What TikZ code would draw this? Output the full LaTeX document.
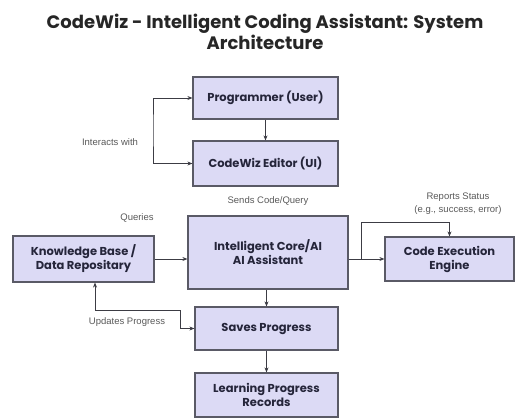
\documentclass[tikz,border=0pt]{standalone}
\usepackage{fontspec}
\setmainfont{Poppins}
\newfontfamily\labelfont{Liberation Sans}
\usepackage{xcolor}
\usepackage{tikz}
\usetikzlibrary{arrows.meta}

\definecolor{boxfill}{HTML}{DCDAF5}
\definecolor{boxline}{HTML}{5A5A66}
\definecolor{boxtext}{HTML}{25253A}
\definecolor{linkgray}{HTML}{3C3C44}

\tikzset{
  archbox/.style={draw=boxline, line width=1.2pt, fill=boxfill, text=boxtext,
    font=\fontsize{11.5}{14}\selectfont\bfseries, align=center,
    inner sep=0pt, minimum width=#1},
  archbox/.default=145pt,
  link/.style={draw=linkgray, line width=0.9pt, -{Stealth[length=5pt,width=4pt]}},
  linkboth/.style={link, {Stealth[length=5pt,width=4pt]}-{Stealth[length=5pt,width=4pt]}},
  tag/.style={text=black!65, font=\labelfont\fontsize{9.5}{13}\selectfont, align=center}
}

\begin{document}
\begin{tikzpicture}[x=1pt, y=-1pt]
    \useasboundingbox (0,0) rectangle (515,418);

    \node (title) at (265,32) [align=center, font=\fontsize{18}{21}\selectfont\bfseries, text=black!85]
      {CodeWiz - Intelligent Coding Assistant: System\\Architecture};

    % boxes
    \node (prog) at (265.5,98) [archbox, minimum height=42pt] {Programmer (User)};
    \node (editor) at (265.5,163.5) [archbox, minimum height=45pt] {CodeWiz Editor (UI)};
    \node (core) at (268,252.5) [archbox=160pt, minimum height=73pt] {Intelligent Core/AI\\AI Assistant};
    \node (kb) at (83.5,259) [archbox=141pt, minimum height=46pt] {Knowledge Base /\\Data Repositary};
    \node (exec) at (449.5,259) [archbox=129pt, minimum height=44pt] {Code Execution\\Engine};
    \node (saves) at (266.5,328.5) [archbox=143pt, minimum height=43pt] {Saves Progress};
    \node (records) at (266.5,395) [archbox=143pt, minimum height=44pt] {Learning Progress\\Records};

    % helper points
    \coordinate (iw) at (153,130);
    \coordinate (rs) at (361,222);
    \coordinate (up1) at (95,310);
    \coordinate (up2) at (180,310);

    % connectors
    \draw [link] (prog.south) -- (editor.north);
    \draw [linkboth] (prog.west) -| (iw) |- (editor.west);
    \draw [link] (kb.east) -- (kb.east -| core.west);
    \draw [link] (exec.west -| core.east) -- (exec.west);
    \draw [link] (rs |- exec.west) -- (rs) -| (exec.north);
    \draw [link] (core.south -| saves.north) -- (saves.north);
    \draw [link] (saves.south) -- (records.north);
    \draw [linkboth] (up1 |- kb.south) -- (up1) -- (up2) |- (saves.west);

    % labels
    \node (lint) at (110,142) [tag] {Interacts with};
    \node (lsend) at (268,201) [tag] {Sends Code/Query};
    \node (lquery) at (137,218) [tag] {Queries};
    \node (lrep) at (458,204) [tag] {Reports Status\\(e.g., success, error)};
    \node (lupd) at (127,322) [tag] {Updates Progress};
\end{tikzpicture}
\end{document}
